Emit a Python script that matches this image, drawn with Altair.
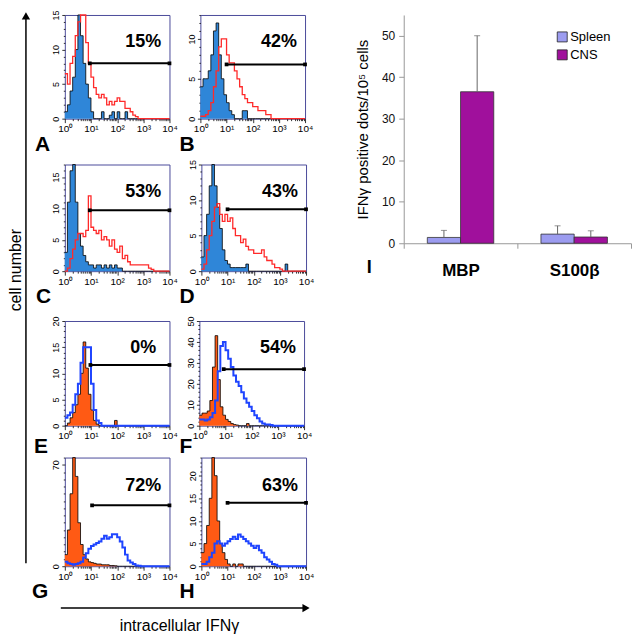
import altair as alt
import pandas as pd

FONT = "Liberation Sans"

# ---------------- data ----------------
PANELS = ["A", "B", "C", "D", "E", "F", "G", "H"]
PCT = ["15%", "42%", "53%", "43%", "0%", "54%", "72%", "63%"]
YMAX = [15, 13, 17, 15, 20, 50, 75, 24]
YLABEL_STEP = [5, 5, 5, 5, 5, 10, 70, 5]
YTICK_STEP = [1, 1, 1, 1, 1, 2, 5, 1]
GATE_START = [9, 10, 9, 10, 9.5, 8.5, 11, 10]
GATE_LEVEL = [8, 6.8, 9.7, 8.7, 11.6, 27, 42, 14]

# 40 bins of 0.1 decade each, from 10^0 to 10^4
CTRL_A = [1, 2, 4, 6, 10, 15, 12, 8, 5, 3, 1, 0, 0, 0, 1, 0, 0, 0.5, 1, 0,
          1, 0, 0, 1, 0, 0, 0, 0, 0, 0, 0, 0, 0, 0, 0, 0, 0, 0, 0, 0]
TEST_A = [6.5, 5, 8, 9, 12, 14, 15, 15, 11, 8, 6, 4.5, 3.5, 3, 3.5, 3, 2, 2.5, 2, 2.5,
          3, 2.5, 2.5, 1.5, 1.5, 1, 0.5, 0.3, 0, 0, 0, 0, 0, 0, 0, 0, 0, 0, 0, 0]
CTRL_B = [4, 5, 5, 6, 8, 11, 12, 8, 5, 3, 2, 1, 0.5, 0, 0, 0, 1, 1, 0, 0,
          0, 0, 0, 0, 0, 0, 0, 0, 0, 0, 0, 0, 0, 0, 0, 0, 0, 0, 0, 0]
TEST_B = [0.3, 0.3, 0.5, 1, 2, 4, 6, 9, 10, 10, 8, 7, 7, 6, 5, 4, 3, 2.5, 2, 2,
          1.5, 1.5, 1, 1, 1, 0.5, 0.5, 0, 0, 0, 0, 0, 0, 0, 0, 0, 0, 0, 0, 0]
CTRL_C = [3, 11, 16, 17, 11, 6, 4, 2.5, 1.5, 1, 1, 0.5, 1, 1, 0.5, 1, 0.5, 1, 0.5, 1,
          0.5, 0.5, 0, 0, 0, 0, 0, 0, 0, 0, 0, 0, 0, 0, 0, 0, 0, 0, 0, 0]
TEST_C = [0, 0.5, 2, 3.5, 5, 6, 6, 5.5, 6.5, 12, 7, 6.5, 6, 6.5, 5, 5.5, 5, 4, 5, 3.5,
          3, 4, 2, 2.5, 1.5, 1, 1, 1, 1, 1, 1, 1, 0.5, 0.3, 0, 0, 0, 0, 0, 0]
CTRL_D = [2, 5, 8, 12, 15, 12, 9, 6, 3, 1.5, 1, 0.5, 0.5, 0.5, 0.5, 0.5, 0.5, 1, 0, 0,
          0, 0, 0, 0, 0, 0, 0, 0, 0, 0, 0, 0, 1, 0, 0, 0, 0, 0, 0, 0]
TEST_D = [0.3, 1, 3, 5, 7, 9, 9.5, 8, 7, 8, 7, 7.5, 6, 5, 5, 4, 4.5, 3.5, 3, 3,
          2.5, 2.5, 2.5, 3, 2, 1.5, 1.5, 1, 0.5, 0.5, 0.3, 0, 0, 0, 0, 0, 0, 0, 0, 0]
CTRL_E = [0, 0.5, 1.5, 2.5, 4, 6, 10, 16, 11, 6, 3, 1, 0.3, 0, 0, 0, 0, 0, 0, 1,
          0, 0, 0, 0, 0, 0, 0, 0, 0, 0, 0, 0, 0, 0, 0, 0, 0, 0, 0, 0]
TEST_E = [1.5, 2, 2.5, 4, 6, 8, 12, 15, 15, 15, 8, 3, 1, 0.5, 0, 0, 0, 0, 0, 0,
          0, 0, 0, 0, 0, 0, 0, 0, 0, 0, 0, 0, 0, 0, 0, 0, 0, 0, 0, 0]
CTRL_F = [5, 6, 6, 7, 12, 28, 43, 22, 9, 5, 3, 2, 1, 0.5, 0.3, 0, 0, 0, 1, 0,
          0, 0, 0, 0, 0, 0, 0, 0, 0, 0, 0, 0, 0, 0, 0, 0, 0, 0, 0, 0]
TEST_F = [3, 3, 2.5, 3, 4, 6, 12, 26, 38, 40, 36, 32, 28, 24, 21, 19, 16, 13, 11, 9,
          7, 5, 3.5, 2, 1, 0.5, 0.5, 0.3, 0, 0, 0, 0, 0, 0, 0, 0, 0, 0, 0, 0]
CTRL_G = [8, 25, 50, 75, 62, 30, 15, 8, 5, 3, 2.5, 2, 1.5, 1.5, 1, 1, 1, 0.5, 0.5, 0.3,
          0, 0, 0, 0, 0, 0, 0, 0, 0, 0, 0, 0, 0, 0, 0, 0, 0, 0, 0, 0]
TEST_G = [3, 2, 1.5, 1, 1.5, 2, 3, 6, 9, 12, 14, 15, 16, 17, 19, 21, 19, 20, 22, 22,
          20, 17, 13, 8, 4, 2.5, 1.5, 0.5, 0.3, 0, 0, 0, 0, 0, 0, 0, 0, 0, 0, 0]
CTRL_H = [3, 5, 9, 15, 24, 20, 10, 5, 3, 1.5, 0.5, 0, 0.5, 0, 0.5, 0.5, 0, 0, 0, 0,
          0, 0, 0, 0, 0, 0, 0, 0, 0, 0, 0, 0, 0, 0, 0, 0, 0, 0, 0, 0]
TEST_H = [0.5, 0.5, 1, 2, 3, 5, 5.5, 5, 4.5, 5, 5.5, 6, 6.5, 6, 7, 6.5, 6, 5.5, 5, 4.5,
          4, 4.5, 3.5, 3, 2, 1.5, 1, 0.5, 0.3, 0, 0, 0, 0, 0, 0, 0, 0, 0, 0, 0]

CTRL = [CTRL_A, CTRL_B, CTRL_C, CTRL_D, CTRL_E, CTRL_F, CTRL_G, CTRL_H]
TEST = [TEST_A, TEST_B, TEST_C, TEST_D, TEST_E, TEST_F, TEST_G, TEST_H]

BAR_CAT = ["MBP", "MBP", "S100β", "S100β"]
BAR_GROUP = ["Spleen", "CNS", "Spleen", "CNS"]
BAR_VALUE = [1.4, 36.5, 2.2, 1.5]
BAR_UPPER = [3.1, 50, 4.2, 3.0]
LEGEND_GROUPS = ["Spleen", "CNS"]
BAR_COLORS = ["#9c9cf0", "#a0109c"]

# ---------------- layout / style ----------------
PANEL_W = 105
PANEL_H = [104, 104, 107, 107, 105, 105, 109, 109]
LETTER_DX = [-30, -21, -29, -22, -31, -20, -33, -22]
LETTER_OFFSET = [0, 0, 0, 0, -5, -5, 0, 0]
FRAME = "#4b4b9b"

MAJOR_X = "datum.value == 1 || datum.value == 10 || datum.value == 100 || datum.value == 1000 || datum.value == 10000"
X_LABELS = ("datum.value == 1 ? '10⁰' : datum.value == 10 ? '10¹' : datum.value == 100 ? '10²' : "
            "datum.value == 1000 ? '10³' : datum.value == 10000 ? '10⁴' : ''")
X_TICKS = [k * 10 ** d for d in range(4) for k in range(1, 10)] + [10000]


def panel(i):
    ymax = YMAX[i]
    top_row = i < 4
    fill_c = "#2f86d8" if top_row else "#ff5a14"
    line_c = "#ff2a2a" if top_row else "#1f45ff"
    line_w = 1.3 if top_row else 2.0

    n = len(CTRL[i])
    xs = [10 ** (k / 10) for k in range(n + 1)]
    df = pd.DataFrame({"x": xs,
                       "ctrl": CTRL[i] + [CTRL[i][-1]],
                       "test": TEST[i] + [TEST[i][-1]]})

    xscale = alt.Scale(type="log", domain=[1, 10000], nice=False)
    yscale = alt.Scale(domain=[0, ymax], nice=False, clamp=True)
    xaxis = alt.Axis(title=None, values=X_TICKS, labelExpr=X_LABELS, domain=False,
                     tickColor="black", tickWidth=0.8,
                     tickSize={"condition": {"test": MAJOR_X, "value": 4}, "value": 2},
                     labelFontSize=10, labelFont=FONT, labelPadding=1, labelColor="black",
                     grid=False, labelFlush=False, labelOverlap=False)
    ylab = YLABEL_STEP[i]
    yaxis = alt.Axis(title=None, values=list(range(0, ymax + 1, YTICK_STEP[i])),
                     labelExpr=f"datum.value % {ylab} == 0 ? datum.label : ''",
                     domain=False, tickColor="black", tickWidth=0.8,
                     tickSize={"condition": {"test": f"datum.value % {ylab} == 0", "value": 3}, "value": 1.5},
                     labelAngle=270, labelFontSize=9, labelFont=FONT, labelPadding=1,
                     labelColor="black", grid=False, labelOverlap=False)

    base = alt.Chart(df)
    X = alt.X("x:Q", scale=xscale, axis=xaxis)
    area = base.mark_area(interpolate="step-after", color=fill_c, opacity=1).encode(
        x=X, y=alt.Y("ctrl:Q", scale=yscale, axis=yaxis))
    outline = base.mark_line(interpolate="step-after", color="black", strokeWidth=0.8).encode(
        x=X, y=alt.Y("ctrl:Q", scale=yscale, axis=yaxis))
    test = base.mark_line(interpolate="step-after", color=line_c, strokeWidth=line_w).encode(
        x=X, y=alt.Y("test:Q", scale=yscale, axis=yaxis))

    gdf = pd.DataFrame({"x": [GATE_START[i]], "x2": [10000], "y": [GATE_LEVEL[i]]})
    gate = alt.Chart(gdf).mark_rule(color="black", strokeWidth=2).encode(
        x=X, x2="x2:Q", y=alt.Y("y:Q", scale=yscale, axis=yaxis))
    edf = pd.DataFrame({"x": [GATE_START[i], 10000], "y": [GATE_LEVEL[i]] * 2})
    ends = alt.Chart(edf).mark_square(color="black", size=14, opacity=1).encode(
        x=X, y=alt.Y("y:Q", scale=yscale, axis=yaxis))
    tdf = pd.DataFrame({"x": [1000], "y": [0.74 * ymax], "t": [PCT[i]]})
    txt = alt.Chart(tdf).mark_text(fontSize=18, fontWeight="bold", font=FONT, color="black").encode(
        x=X, y=alt.Y("y:Q", scale=yscale, axis=yaxis), text="t:N")

    return alt.layer(area, outline, test, gate, ends, txt).properties(
        width=PANEL_W, height=PANEL_H[i],
        view=alt.ViewBackground(stroke=FRAME, strokeWidth=1),
        title=alt.TitleParams(PANELS[i], orient="bottom", anchor="start", frame="group",
                              dx=LETTER_DX[i], offset=LETTER_OFFSET[i], fontSize=21,
                              fontWeight="bold", font=FONT, color="black"))


P = [panel(i) for i in range(8)]
row1 = alt.hconcat(P[0], P[1], spacing=0)
row2 = alt.hconcat(P[2], P[3], spacing=0)
row3 = alt.hconcat(P[4], P[5], spacing=0)
row4 = alt.hconcat(P[6], P[7], spacing=0)

dummy = pd.DataFrame({"k": [0]})
d2 = alt.Chart(dummy)
h_arrow = alt.layer(
    d2.mark_rule(color="black", strokeWidth=1.5).encode(x=alt.value(-4), x2=alt.value(240), y=alt.value(3)),
    d2.mark_point(shape="triangle-right", filled=True, size=70, color="black", opacity=1).encode(
        x=alt.value(242), y=alt.value(3)),
    d2.mark_text(fontSize=16, font=FONT, color="black").encode(
        x=alt.value(115), y=alt.value(21), text=alt.value("intracellular IFNγ")),
).properties(width=250, height=28, view=alt.ViewBackground(stroke=None))

block = alt.vconcat(
    alt.vconcat(alt.vconcat(row1, row2, spacing=3), alt.vconcat(row3, row4, spacing=-8), spacing=7),
    h_arrow, spacing=0)

d1 = alt.Chart(dummy)
v_arrow = alt.layer(
    d1.mark_rule(color="black", strokeWidth=1.5).encode(x=alt.value(17), y=alt.value(2), y2=alt.value(550)),
    d1.mark_point(shape="triangle-up", filled=True, size=70, color="black", opacity=1).encode(
        x=alt.value(17), y=alt.value(1)),
    d1.mark_text(fontSize=16, font=FONT, color="black", angle=270).encode(
        x=alt.value(7), y=alt.value(256), text=alt.value("cell number")),
).properties(width=18, height=550, view=alt.ViewBackground(stroke=None))

bdf = pd.DataFrame({"cat": BAR_CAT, "grp": BAR_GROUP, "val": BAR_VALUE, "upper": BAR_UPPER})
bx = alt.X("cat:N", sort=["MBP", "S100β"], scale=alt.Scale(paddingInner=0, paddingOuter=0),
           axis=alt.Axis(title="I", titleX=-35, titleY=24, titleAngle=0, titleAlign="center",
                         titleBaseline="middle", titleFontSize=18, titleFontWeight="bold",
                         titleFont=FONT, titleColor="black",
                         labelAngle=0, labelFontSize=17, labelFontWeight="bold", labelFont=FONT,
                         labelColor="black", labelPadding=14, tickBand="extent",
                         tickColor="#999999", tickSize=5, domainColor="#999999"))
bxo = alt.XOffset("grp:N", sort=LEGEND_GROUPS, scale=alt.Scale(paddingInner=0, paddingOuter=0.71))
yscale_bar = alt.Scale(domain=[0, 55], nice=False)
yaxis_bar = alt.Axis(title="IFNγ positive dots/10⁵ cells", values=[0, 10, 20, 30, 40, 50],
                     grid=False, domainColor="#999999", tickColor="#999999", tickSize=5,
                     labelFontSize=12, labelFont=FONT, labelColor="#111111", labelPadding=4,
                     titleFontSize=15, titleFontWeight="normal", titleFont=FONT,
                     titleColor="black", titlePadding=11)
by = alt.Y("val:Q", scale=yscale_bar, axis=yaxis_bar)
color = alt.Color("grp:N", scale=alt.Scale(domain=LEGEND_GROUPS, range=BAR_COLORS), legend=None)
bars = alt.Chart(bdf).mark_bar(stroke="#333333", strokeWidth=0.8, opacity=1).encode(
    x=bx, xOffset=bxo, y=by, color=color)
err = alt.Chart(bdf).mark_rule(color="#666666", strokeWidth=1).encode(
    x=bx, xOffset=bxo, y=by, y2="upper:Q")
cap = alt.Chart(bdf).mark_tick(color="#666666", thickness=1, size=6, orient="horizontal").encode(
    x=bx, xOffset=bxo, y=alt.Y("upper:Q", scale=yscale_bar, axis=yaxis_bar))

# legend drawn inside the plot (top right)
leg_layers = []
for k, g in enumerate(LEGEND_GROUPS):
    ldf = pd.DataFrame({"grp": [g]})
    yy = 22 + 18 * k
    leg_layers.append(alt.Chart(ldf).mark_square(size=100, stroke="#222222", strokeWidth=0.8, opacity=1).encode(
        x=alt.value(159), y=alt.value(yy), color=color))
    leg_layers.append(alt.Chart(ldf).mark_text(fontSize=13, font=FONT, color="black", align="left",
                                               baseline="middle").encode(
        x=alt.value(167), y=alt.value(yy), text="grp:N"))

bar_chart = alt.layer(bars, err, cap, *leg_layers).properties(
    width=228, height=229, view=alt.ViewBackground(stroke=None))

left = alt.hconcat(v_arrow, block, spacing=0)
chart = alt.hconcat(left, bar_chart, spacing=40).properties(padding=0).configure_view(stroke=None)

chart.save("out.html", embed_options={"renderer": "svg", "actions": False})
